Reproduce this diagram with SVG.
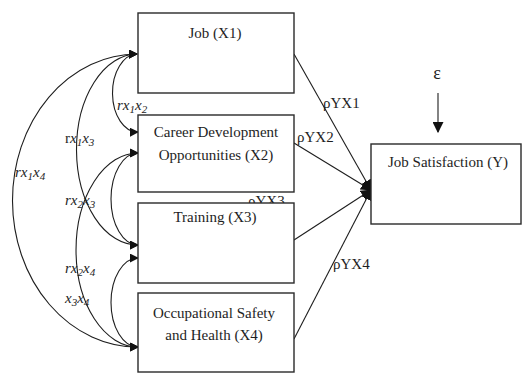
<svg xmlns="http://www.w3.org/2000/svg" width="522" height="374" viewBox="0 0 522 374">
  <defs>
    <marker id="tip" viewBox="0 0 10 10" refX="9" refY="5" markerWidth="9" markerHeight="9" markerUnits="userSpaceOnUse" orient="auto-start-reverse">
      <path d="M0,0 L10,5 L0,10 z" fill="#111"/>
    </marker>
    <marker id="tipBig" viewBox="0 0 10 10" refX="9" refY="5" markerWidth="11" markerHeight="11" markerUnits="userSpaceOnUse" orient="auto">
      <path d="M0,0 L10,5 L0,10 z" fill="#111"/>
    </marker>
  </defs>
  <style>
    .box { fill: #fff; stroke: #2a2a2a; stroke-width: 1.4; }
    .lbl { font-family: "Liberation Serif", "Times New Roman", serif; font-size: 15px; fill: #1e1e1e; text-anchor: middle; }
    .path { font-family: "Liberation Serif", "Times New Roman", serif; font-size: 15px; fill: #1e1e1e; }
    .corr { font-family: "Liberation Serif", "Times New Roman", serif; font-size: 15px; font-style: italic; fill: #1e1e1e; }
    .sub { font-size: 11px; }
    .link { fill: none; stroke: #1e1e1e; stroke-width: 1.1; }
    .cov { fill: none; stroke: #1e1e1e; stroke-width: 1.1; marker-start: url(#tip); marker-end: url(#tip); }
  </style>

  <rect width="522" height="374" fill="#fff"/>

  <!-- path coefficient label partly covered by the Training box -->
  <text class="path" x="248" y="206">ρYX3</text>

  <g id="connectors">
    <!-- correlations between the exogenous variables -->
    <path class="cov" d="M137,54 A25,39 0 0 0 138,132"/>
    <path class="cov" d="M137,54 A61,95.5 0 0 0 138,245"/>
    <path class="cov" d="M137,54 A125,146.5 0 0 0 138,347"/>
    <path class="cov" d="M138,153 A27,46 0 0 0 138,245"/>
    <path class="cov" d="M138,153 A62,97 0 0 0 138,347"/>
    <path class="cov" d="M138,258 A27,44.5 0 0 0 138,347"/>
    <!-- paths into Job Satisfaction -->
    <line class="link" x1="294" y1="54" x2="371" y2="190" marker-end="url(#tipBig)"/>
    <line class="link" x1="294" y1="143" x2="371" y2="190" marker-end="url(#tipBig)"/>
    <line class="link" x1="294" y1="240" x2="371" y2="190" marker-end="url(#tipBig)"/>
    <line class="link" x1="294" y1="339" x2="371" y2="190" marker-end="url(#tipBig)"/>
    <!-- error term -->
    <line class="link" x1="438" y1="93" x2="438" y2="132" marker-end="url(#tipBig)"/>
  </g>

  <g id="x1">
    <rect class="box" x="138" y="13" width="156" height="80"/>
    <text class="lbl" x="215" y="38">Job (X1)</text>
  </g>
  <g id="x2">
    <rect class="box" x="138" y="115" width="156" height="77"/>
    <text class="lbl" x="216" y="137">Career Development</text>
    <text class="lbl" x="216" y="160">Opportunities (X2)</text>
  </g>
  <g id="x3">
    <rect class="box" x="138" y="203" width="156" height="80"/>
    <text class="lbl" x="215" y="222">Training (X3)</text>
  </g>
  <g id="x4">
    <rect class="box" x="138" y="293" width="156" height="79"/>
    <text class="lbl" x="214" y="318">Occupational Safety</text>
    <text class="lbl" x="214" y="340">and Health (X4)</text>
  </g>
  <g id="y">
    <rect class="box" x="371" y="144" width="150" height="80"/>
    <text class="lbl" x="448" y="167">Job Satisfaction (Y)</text>
  </g>
  <g id="epsilon">
    <text class="lbl" x="437" y="79" style="font-size:18px">ε</text>
  </g>

  <!-- path coefficients -->
  <text class="path" x="323" y="108">ρYX1</text>
  <text class="path" x="297" y="142">ρYX2</text>
  <text class="path" x="333" y="269">ρYX4</text>

  <!-- correlation coefficients -->
  <text class="corr" x="117" y="110">r<tspan>x</tspan><tspan class="sub" dy="3">1</tspan><tspan dy="-3">x</tspan><tspan class="sub" dy="3">2</tspan></text>
  <text class="corr" x="65" y="143"><tspan font-style="normal">r</tspan>x<tspan class="sub" dy="3">1</tspan><tspan dy="-3">x</tspan><tspan class="sub" dy="3">3</tspan></text>
  <text class="corr" x="15" y="177">rx<tspan class="sub" dy="3">1</tspan><tspan dy="-3">x</tspan><tspan class="sub" dy="3">4</tspan></text>
  <text class="corr" x="65" y="205">rx<tspan class="sub" dy="3">2</tspan><tspan dy="-3">x</tspan><tspan class="sub" dy="3">3</tspan></text>
  <text class="corr" x="65" y="273">rx<tspan class="sub" dy="3">2</tspan><tspan dy="-3">x</tspan><tspan class="sub" dy="3">4</tspan></text>
  <text class="corr" x="65" y="303">x<tspan class="sub" dy="3">3</tspan><tspan dy="-3">x</tspan><tspan class="sub" dy="3">4</tspan></text>
</svg>
